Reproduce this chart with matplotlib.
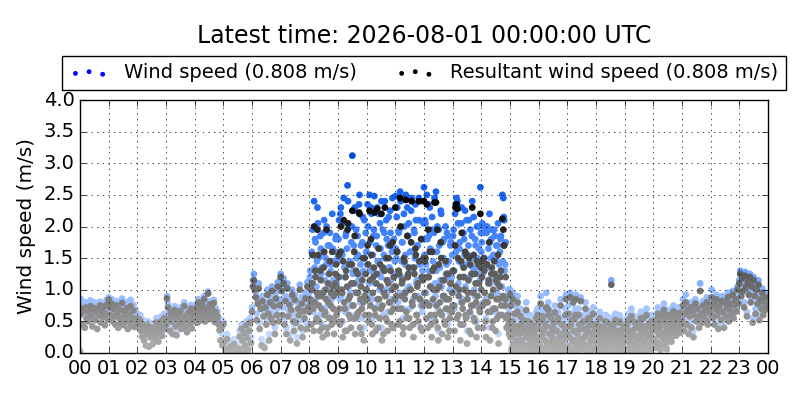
import matplotlib
matplotlib.use('Agg')
import matplotlib.pyplot as plt
import numpy as np
from matplotlib.colors import LinearSegmentedColormap

# one string per hour, 30 samples (even minutes), m/s
ws_hours = [
    "0.05 0.85 0.78 0.66 0.72 0.58 0.80 0.69 0.75 0.62 0.71 0.83 0.67 0.59 0.74 0.80 0.64 0.70 0.55 0.77 0.68 0.81 0.60 0.73 0.66 0.79 0.57 0.70 0.84 0.63",
    "0.88 0.80 0.72 0.85 0.66 0.78 0.70 0.62 0.82 0.74 0.58 0.69 0.77 0.64 0.86 0.71 0.60 0.75 0.67 0.80 0.56 0.73 0.65 0.84 0.61 0.70 0.76 0.59 0.68 0.63",
    "0.62 0.55 0.48 0.60 0.42 0.35 0.52 0.30 0.45 0.28 0.38 0.50 0.25 0.40 0.33 0.47 0.22 0.36 0.44 0.30 0.55 0.38 0.27 0.48 0.41 0.58 0.35 0.52 0.62 0.45",
    "0.52 0.90 0.78 0.62 0.45 0.70 0.58 0.40 0.66 0.74 0.50 0.36 0.60 0.68 0.55 0.72 0.46 0.63 0.57 0.80 0.49 0.65 0.42 0.70 0.61 0.54 0.76 0.48 0.67 0.59",
    "0.70 0.62 0.78 0.55 0.85 0.66 0.74 0.60 0.80 0.68 0.90 0.58 0.76 0.64 0.97 0.72 0.82 0.61 0.75 0.69 0.84 0.57 0.71 0.63 0.66 0.55 0.48 0.38 0.52 0.30",
    "0.48 0.25 0.12 0.05 0.30 0.08 0.02 0.18 0.04 0.10 0.01 0.22 0.06 0.03 0.15 0.00 0.08 0.35 0.12 0.45 0.28 0.05 0.40 0.20 0.50 0.32 0.10 0.42 0.55 0.25",
    "0.72 1.15 1.25 1.08 0.95 0.62 0.85 1.10 0.48 0.78 0.22 0.90 0.68 0.15 0.80 0.55 1.00 0.72 0.30 0.88 0.64 1.05 0.58 0.82 0.40 0.95 0.70 1.12 0.60 0.85",
    "1.25 1.05 0.72 1.18 0.55 0.90 0.40 1.10 0.68 0.85 0.30 0.78 1.00 0.62 0.45 0.92 0.58 0.25 0.80 0.70 1.08 0.52 0.88 0.35 0.75 0.65 0.95 0.48 1.12 0.82",
    "0.95 1.30 0.70 1.55 1.10 2.40 1.80 0.85 1.45 2.05 1.20 0.60 1.65 1.35 0.45 1.90 1.00 1.50 2.00 0.75 1.25 1.70 0.90 1.40 2.20 1.15 0.55 1.60 1.85 1.05",
    "1.45 2.10 0.85 2.30 1.60 0.50 2.45 1.20 1.85 0.70 2.65 1.40 2.00 0.95 1.75 3.12 1.30 2.25 0.60 1.95 1.10 1.55 2.35 0.80 1.70 1.25 2.15 0.40 1.50 1.90",
    "1.60 2.35 0.90 2.50 1.30 2.20 0.55 1.85 2.48 1.10 1.70 2.30 0.75 1.45 2.05 1.20 0.40 1.95 1.55 2.40 1.00 1.80 0.65 2.15 1.35 1.90 0.85 2.45 1.25 1.65",
    "2.48 1.50 2.30 0.80 1.95 2.55 1.20 1.75 0.55 2.20 1.40 2.50 1.00 1.85 2.05 0.70 1.60 2.45 1.30 0.45 1.90 2.35 1.10 1.70 0.90 2.10 1.45 2.40 0.65 1.80",
    "2.62 2.10 1.40 2.50 0.75 1.85 2.30 1.05 0.50 1.95 1.60 2.45 0.90 1.30 2.00 0.35 1.70 1.15 2.20 0.60 1.50 1.80 0.85 1.25 1.90 0.45 1.45 1.00 1.75 1.20",
    "1.30 1.95 0.70 2.35 2.45 2.40 1.10 1.65 0.45 2.05 1.40 0.85 1.80 2.25 1.00 0.35 1.55 2.10 1.20 0.60 1.85 1.35 2.15 0.90 1.70 0.50 1.50 2.00 1.25 2.62",
    "1.60 2.05 0.80 1.90 1.35 0.55 2.00 1.15 1.75 0.40 1.50 1.95 0.95 1.25 1.85 0.65 1.45 1.70 0.30 1.05 1.80 1.30 2.50 2.45 2.10 1.40 0.90 0.75 1.00 0.60",
    "1.00 0.85 0.60 0.95 0.40 0.75 0.25 0.55 0.90 0.15 0.45 0.70 0.30 0.10 0.65 0.20 0.50 0.80 0.35 0.05 0.42 0.60 0.25 0.12 0.55 0.38 0.08 0.48 0.30 0.70",
    "0.60 0.35 0.90 0.15 0.70 0.45 0.05 0.55 0.95 0.25 0.80 0.40 0.10 0.65 0.30 0.50 0.20 0.75 0.02 0.45 0.60 0.12 0.35 0.85 0.25 0.55 0.08 0.40 0.70 0.18",
    "0.40 0.75 0.20 0.95 0.55 0.10 0.85 0.30 0.65 0.92 0.45 0.05 0.70 0.25 0.88 0.50 0.15 0.60 0.35 0.80 0.08 0.45 0.65 0.22 0.55 0.12 0.40 0.72 0.30 0.50",
    "0.30 0.55 0.10 0.45 0.65 0.20 0.38 0.05 0.50 0.28 0.60 0.15 0.42 0.02 0.35 0.55 1.15 0.25 0.48 0.08 0.62 0.32 0.12 0.45 0.22 0.58 0.05 0.40 0.18 0.50",
    "0.25 0.50 0.08 0.40 0.62 0.15 0.35 0.70 0.05 0.45 0.22 0.58 0.12 0.30 0.48 0.02 0.38 0.65 0.18 0.52 0.28 0.10 0.42 0.70 0.20 0.55 0.32 0.15 0.60 0.45",
    "0.45 0.25 0.60 0.15 0.50 0.72 0.35 0.55 0.20 0.65 0.40 0.78 0.30 0.58 0.12 0.48 0.68 0.38 0.62 0.25 0.52 0.75 0.42 0.60 0.35 0.70 0.50 0.65 0.45 0.72",
    "0.60 0.85 0.45 0.70 0.92 0.55 0.75 0.40 0.65 0.80 0.50 0.72 0.35 0.68 0.85 0.58 0.78 0.62 0.48 1.10 0.70 0.55 0.82 0.65 0.75 0.60 0.88 0.52 0.72 0.80",
    "0.70 1.00 0.62 0.85 0.55 0.78 0.92 0.68 0.45 0.82 0.75 0.60 0.90 0.72 0.50 0.88 0.65 0.80 0.95 0.58 0.75 0.85 0.68 0.98 0.62 0.82 0.90 0.72 1.05 0.85",
    "1.15 1.30 0.95 1.22 1.05 0.80 1.28 1.10 0.65 1.18 1.00 1.25 0.88 1.12 0.55 1.20 0.98 0.70 1.08 0.85 1.15 0.60 0.92 0.78 1.02 0.68 0.88 0.75 0.95 0.82",
]
rws_hours = [
    "0.02 0.62 0.70 0.45 0.66 0.40 0.72 0.55 0.68 0.50 0.63 0.74 0.58 0.42 0.69 0.71 0.52 0.64 0.38 0.70 0.60 0.75 0.48 0.66 0.57 0.73 0.44 0.62 0.76 0.53",
    "0.84 0.72 0.60 0.78 0.50 0.70 0.58 0.45 0.75 0.62 0.40 0.55 0.68 0.48 0.79 0.57 0.44 0.66 0.52 0.71 0.38 0.61 0.49 0.74 0.43 0.56 0.67 0.41 0.53 0.47",
    "0.55 0.48 0.40 0.52 0.35 0.26 0.45 0.20 0.38 0.12 0.30 0.43 0.10 0.33 0.25 0.40 0.14 0.28 0.37 0.22 0.48 0.30 0.18 0.41 0.34 0.50 0.27 0.45 0.55 0.38",
    "0.45 0.86 0.72 0.55 0.35 0.64 0.50 0.30 0.60 0.68 0.42 0.28 0.53 0.62 0.47 0.66 0.38 0.56 0.49 0.74 0.40 0.58 0.33 0.63 0.54 0.46 0.70 0.39 0.60 0.51",
    "0.64 0.54 0.72 0.48 0.80 0.60 0.68 0.52 0.75 0.62 0.85 0.50 0.70 0.57 0.94 0.66 0.77 0.54 0.70 0.63 0.79 0.49 0.65 0.55 0.58 0.45 0.36 0.20 0.40 0.12",
    "0.45 0.18 0.06 0.02 0.22 0.03 0.01 0.10 0.02 0.05 0.00 0.14 0.03 0.01 0.08 0.00 0.04 0.26 0.06 0.38 0.20 0.02 0.32 0.12 0.44 0.24 0.05 0.35 0.48 0.16",
    "0.65 1.05 1.15 1.00 0.88 0.52 0.78 1.02 0.38 0.70 0.12 0.82 0.58 0.08 0.72 0.45 0.92 0.62 0.20 0.80 0.55 0.98 0.48 0.74 0.30 0.86 0.60 1.05 0.50 0.76",
    "1.20 0.98 0.60 1.10 0.45 0.82 0.30 1.02 0.58 0.76 0.20 0.68 0.92 0.50 0.35 0.84 0.48 0.15 0.70 0.60 1.00 0.40 0.78 0.25 0.66 0.55 0.86 0.38 1.05 0.72",
    "0.65 0.85 0.45 1.10 0.70 2.00 1.30 0.50 0.95 1.55 0.75 0.35 1.15 0.90 0.25 1.35 0.60 1.00 1.95 0.40 0.80 1.25 0.55 0.95 1.60 0.70 0.30 1.10 1.40 0.65",
    "1.00 1.55 0.45 2.00 1.00 0.25 2.10 0.70 1.20 0.35 1.95 0.85 1.40 0.55 1.10 2.25 0.75 1.60 0.30 1.30 0.60 0.95 2.22 0.40 1.05 0.70 1.50 0.20 0.90 1.25",
    "1.00 1.70 0.50 2.25 0.75 1.55 0.30 1.20 2.22 0.60 1.10 2.28 0.40 0.85 1.40 0.70 0.20 1.35 0.95 2.30 0.55 1.15 0.35 1.50 0.80 1.30 0.45 1.75 0.70 1.05",
    "2.30 0.90 1.60 0.45 1.25 2.45 0.70 1.10 0.30 1.50 0.85 2.42 0.55 1.20 1.35 0.40 1.00 2.40 0.75 0.25 1.25 1.65 0.60 1.05 0.50 1.45 0.85 1.80 0.35 1.15",
    "2.40 1.45 0.80 2.35 0.40 1.20 1.60 0.60 0.25 1.30 1.00 2.38 0.50 0.75 1.95 0.20 1.05 0.65 1.50 0.30 0.90 1.15 0.45 0.70 1.25 0.25 0.85 0.55 1.10 0.65",
    "0.75 1.30 0.35 2.30 2.35 2.28 0.60 1.00 0.20 1.45 0.80 0.45 1.20 1.60 0.55 0.15 0.95 1.50 0.65 0.30 1.25 0.75 1.55 0.50 1.10 0.25 0.90 1.40 0.70 2.20",
    "1.00 1.45 0.40 1.30 0.80 0.25 1.40 0.65 1.15 0.20 0.90 1.35 0.50 0.70 1.25 0.35 0.85 1.10 0.15 0.60 1.20 0.75 2.12 1.95 1.70 0.85 0.55 0.40 0.60 0.30",
    "0.92 0.75 0.45 0.85 0.30 0.62 0.15 0.42 0.80 0.08 0.35 0.58 0.20 0.05 0.52 0.12 0.40 0.68 0.25 0.02 0.32 0.48 0.15 0.06 0.44 0.28 0.04 0.38 0.20 0.60",
    "0.48 0.25 0.78 0.08 0.58 0.35 0.02 0.45 0.72 0.15 0.68 0.30 0.05 0.55 0.20 0.40 0.12 0.64 0.00 0.35 0.50 0.06 0.25 0.75 0.16 0.45 0.03 0.30 0.60 0.10",
    "0.30 0.62 0.10 0.88 0.45 0.05 0.80 0.20 0.55 0.85 0.35 0.02 0.60 0.15 0.82 0.40 0.08 0.50 0.25 0.70 0.04 0.35 0.55 0.12 0.45 0.06 0.30 0.62 0.20 0.40",
    "0.22 0.45 0.05 0.35 0.55 0.12 0.28 0.02 0.40 0.18 0.50 0.08 0.32 0.00 0.25 0.45 1.08 0.15 0.38 0.04 0.52 0.22 0.06 0.35 0.14 0.48 0.02 0.30 0.10 0.40",
    "0.18 0.42 0.04 0.30 0.52 0.08 0.25 0.58 0.02 0.35 0.15 0.48 0.06 0.22 0.40 0.00 0.28 0.55 0.10 0.42 0.20 0.05 0.32 0.60 0.12 0.45 0.22 0.08 0.50 0.36",
    "0.38 0.18 0.52 0.08 0.42 0.62 0.28 0.48 0.12 0.58 0.32 0.68 0.22 0.50 0.06 0.40 0.60 0.30 0.55 0.18 0.45 0.66 0.35 0.52 0.28 0.62 0.42 0.58 0.38 0.64",
    "0.52 0.75 0.35 0.62 0.80 0.45 0.68 0.30 0.58 0.72 0.40 0.65 0.25 0.60 0.78 0.50 0.70 0.55 0.40 0.98 0.62 0.48 0.75 0.58 0.68 0.52 0.80 0.45 0.65 0.72",
    "0.62 0.88 0.55 0.78 0.45 0.70 0.85 0.60 0.38 0.75 0.68 0.52 0.82 0.65 0.40 0.80 0.58 0.72 0.88 0.50 0.68 0.78 0.60 0.92 0.55 0.76 0.85 0.66 1.00 0.78",
    "1.10 1.25 0.90 1.18 0.98 0.72 1.22 1.05 0.58 1.12 0.92 1.20 0.80 1.05 0.48 1.15 0.90 0.62 1.00 0.78 1.08 0.52 0.85 0.70 0.95 0.60 0.80 0.68 0.88 0.75",
]
# extra samples (odd minutes) for the busy hours
extra_hours = [8, 9, 10, 11, 12, 13, 14, 15, 16, 17, 18, 19, 20]
ws_extra = [
    "1.20 0.80 1.60 1.95 0.65 1.35 1.75 1.05 2.30 1.50 0.90 1.85 1.25 0.70 1.55 2.10 1.15 1.40 0.60 1.70 1.00 1.90 1.30 0.85 1.65 1.45 0.95 1.80 1.10 1.50",
    "1.80 1.20 2.20 0.90 1.55 2.05 1.35 0.65 1.90 1.65 2.40 1.05 1.45 0.75 2.00 1.25 1.70 2.30 0.95 1.50 1.85 1.15 2.50 1.40 0.55 1.75 1.30 2.10 1.00 1.60",
    "1.40 2.00 1.10 1.75 2.30 0.85 1.55 1.95 1.25 0.70 1.85 1.45 2.20 1.00 1.65 2.40 1.30 0.60 1.90 1.50 2.10 0.95 1.70 1.35 2.25 1.15 1.60 0.80 1.80 1.45",
    "1.65 2.15 1.25 1.90 0.95 2.40 1.45 1.75 0.70 2.00 1.55 1.20 2.30 1.85 1.05 1.60 2.25 1.35 0.85 1.95 1.50 2.10 1.15 1.70 2.45 1.40 0.75 1.80 1.30 2.05",
    "1.55 2.05 0.95 1.80 2.35 1.30 1.65 0.80 2.15 1.45 1.90 1.10 2.55 1.60 0.70 1.95 1.35 2.25 1.05 1.75 1.50 0.90 2.00 1.40 1.20 1.85 0.65 1.70 1.25 1.55",
    "1.85 1.30 2.20 1.60 0.95 2.05 1.45 1.75 0.80 2.30 1.20 1.90 1.55 1.05 2.10 1.40 1.70 0.65 1.95 1.25 2.40 1.50 1.00 1.80 1.35 2.00 0.75 1.65 1.15 1.90",
    "1.75 1.25 2.00 1.50 0.85 1.90 1.35 1.65 2.20 1.10 1.80 0.70 1.55 1.95 1.20 1.70 0.95 2.05 1.40 1.60 1.85 1.05 1.45 2.15 1.30 1.75 0.60 0.85 0.70 0.50",
    "0.35 0.10 0.62 0.22 0.48 0.05 0.30 0.75 0.18 0.40 0.02 0.55 0.28 0.12 0.45 0.08 0.38 0.20 0.60 0.15 0.32 0.04 0.50 0.25 0.10 0.42 0.18 0.65 0.06 0.35",
    "0.22 0.48 0.08 0.38 0.62 0.15 0.30 0.02 0.52 0.25 0.70 0.12 0.42 0.05 0.35 0.58 0.20 0.45 0.10 0.28 0.65 0.04 0.40 0.18 0.55 0.30 0.08 0.48 0.92 0.35",
    "0.18 0.52 0.35 0.08 0.62 0.28 0.45 0.12 0.70 0.22 0.40 0.05 0.55 0.32 0.15 0.48 0.25 0.60 0.10 0.38 0.02 0.50 0.20 0.65 0.30 0.08 0.42 0.15 0.55 0.28",
    "0.15 0.40 0.05 0.28 0.52 0.10 0.35 0.20 0.45 0.02 0.30 0.58 0.12 0.25 0.48 0.08 0.38 0.18 0.55 0.05 0.32 0.15 0.42 0.22 0.60 0.10 0.35 0.25 0.50 0.12",
    "0.12 0.35 0.55 0.05 0.28 0.45 0.18 0.62 0.08 0.38 0.25 0.50 0.02 0.32 0.15 0.58 0.22 0.42 0.10 0.65 0.30 0.48 0.05 0.35 0.20 0.52 0.40 0.12 0.55 0.28",
    "0.30 0.55 0.18 0.45 0.65 0.25 0.50 0.10 0.40 0.60 0.32 0.70 0.22 0.52 0.42 0.62 0.28 0.48 0.58 0.35 0.68 0.45 0.55 0.38 0.62 0.50 0.72 0.42 0.60 0.55",
]
rws_extra = [
    "0.75 0.45 1.00 1.55 0.35 0.80 1.20 0.55 1.95 0.90 0.50 1.30 0.70 0.40 0.95 1.60 0.65 0.85 0.30 1.10 0.55 1.45 0.75 0.45 1.05 0.90 0.50 1.25 0.60 0.95",
    "1.20 0.70 1.60 0.50 0.95 1.45 0.80 0.35 1.30 1.05 2.05 0.60 0.90 0.40 1.40 0.75 1.10 1.85 0.55 0.95 1.25 0.65 2.20 0.85 0.30 1.15 0.80 1.50 0.60 1.00",
    "0.85 1.40 0.60 1.15 1.80 0.45 0.95 1.35 0.70 0.35 1.25 0.85 1.65 0.55 1.05 2.20 0.75 0.30 1.30 0.90 1.50 0.50 1.10 0.80 1.70 0.65 1.00 0.40 1.20 0.85",
    "1.05 1.60 0.70 1.30 0.50 2.00 0.90 1.15 0.40 1.45 0.95 0.65 1.85 1.25 0.55 1.00 1.75 0.80 0.45 1.35 0.90 1.55 0.60 1.10 2.40 0.85 0.40 1.20 0.75 1.50",
    "0.95 1.50 0.55 1.20 1.95 0.75 1.05 0.45 1.60 0.85 1.35 0.60 2.38 1.00 0.40 1.40 0.80 1.75 0.60 1.15 0.90 0.50 1.45 0.85 0.70 1.25 0.35 1.10 0.70 0.95",
    "1.30 0.75 1.70 1.05 0.55 1.50 0.90 1.20 0.45 1.90 0.70 1.35 1.00 0.60 1.55 0.85 1.15 0.35 1.40 0.75 2.30 0.95 0.55 1.25 0.80 1.45 0.40 1.10 0.65 1.35",
    "1.20 0.75 1.50 0.95 0.50 1.40 0.80 1.10 1.75 0.65 1.25 0.40 1.00 1.45 0.70 1.15 0.55 1.55 0.85 1.05 1.30 0.60 0.90 1.70 0.75 1.20 0.40 0.55 0.45 0.35",
    "0.25 0.05 0.50 0.14 0.38 0.02 0.20 0.65 0.10 0.30 0.00 0.45 0.18 0.06 0.35 0.03 0.28 0.12 0.50 0.08 0.22 0.01 0.40 0.15 0.05 0.32 0.10 0.55 0.02 0.25",
    "0.14 0.38 0.04 0.28 0.52 0.08 0.20 0.00 0.42 0.16 0.60 0.06 0.32 0.02 0.25 0.48 0.12 0.35 0.05 0.18 0.55 0.01 0.30 0.10 0.45 0.20 0.04 0.38 0.85 0.25",
    "0.10 0.42 0.25 0.04 0.52 0.18 0.35 0.06 0.60 0.14 0.30 0.02 0.45 0.22 0.08 0.38 0.16 0.50 0.05 0.28 0.00 0.40 0.12 0.55 0.20 0.04 0.32 0.08 0.45 0.18",
    "0.08 0.30 0.02 0.18 0.42 0.05 0.25 0.12 0.35 0.00 0.20 0.48 0.06 0.15 0.38 0.04 0.28 0.10 0.45 0.02 0.22 0.08 0.32 0.14 0.50 0.05 0.25 0.16 0.40 0.06",
    "0.06 0.25 0.45 0.02 0.18 0.35 0.10 0.52 0.04 0.28 0.16 0.40 0.00 0.22 0.08 0.48 0.14 0.32 0.05 0.55 0.20 0.38 0.02 0.25 0.12 0.42 0.30 0.06 0.45 0.18",
    "0.22 0.45 0.10 0.35 0.55 0.16 0.40 0.05 0.30 0.50 0.24 0.60 0.14 0.42 0.32 0.52 0.20 0.38 0.48 0.26 0.58 0.35 0.45 0.28 0.52 0.40 0.62 0.32 0.50 0.45",
]
hour_labels = ['%02d' % (h % 24) for h in range(25)]
title = 'Latest time: 2026-08-01 00:00:00 UTC'
ws_label = 'Wind speed (0.808 m/s)'
rws_label = 'Resultant wind speed (0.808 m/s)'


def unpack(hours, strings, offset):
    tt, vv = [], []
    for h, s in zip(hours, strings):
        vals = [float(v) for v in s.split()]
        n = len(vals)
        tt += [h + (i + offset) / n for i in range(n)]
        vv += vals
    return np.array(tt), np.array(vv)


t1, ws1 = unpack(range(24), ws_hours, 0.0)
_, rws1 = unpack(range(24), rws_hours, 0.0)
t2, ws2 = unpack(extra_hours, ws_extra, 0.5)
_, rws2 = unpack(extra_hours, rws_extra, 0.5)
order = np.argsort(np.concatenate([t1, t2]), kind='stable')
t = np.concatenate([t1, t2])[order]
ws = np.concatenate([ws1, ws2])[order]
rws = np.concatenate([rws1, rws2])[order]

plt.style.use('classic')
plt.rcParams['font.family'] = ['DejaVu Sans']

blue_cm = LinearSegmentedColormap.from_list('wsb', ['#d4e2ff', '#9ec0ff', '#5590ff', '#1a66f5', '#0048d0'])
gray_cm = LinearSegmentedColormap.from_list('wsg', ['#b0b0b0', '#8e8e8e', '#606060', '#303030', '#000000'])

fig = plt.figure(figsize=(8, 4), dpi=100)
fig.patch.set_facecolor('white')
ax = fig.add_axes([0.1, 0.1175, 0.86, 0.6325])

ax.scatter(t, ws, c=ws, cmap=blue_cm, vmin=0, vmax=3.2, s=24, edgecolors='none')
ax.scatter(t, rws, c=rws, cmap=gray_cm, vmin=0, vmax=2.4, s=24, edgecolors='none')

# legend proxies
h1 = ax.scatter([], [], c='b', s=12, edgecolors='none', label=ws_label)
h2 = ax.scatter([], [], c='k', s=12, edgecolors='none', label=rws_label)
ax.legend(handles=[h1, h2], loc='lower center', bbox_to_anchor=(0.5, 1.0),
          ncol=2, scatterpoints=3, fontsize=14, borderaxespad=0.5)

ax.set_xlim(0, 24)
ax.set_ylim(0, 4.0)
ax.set_xticks(range(25))
ax.set_xticklabels(hour_labels)
ax.set_yticks(np.arange(0, 4.01, 0.5))
ax.tick_params(labelsize=14)
ax.grid(True)
ax.set_ylabel('Wind speed (m/s)', fontsize=14.4)
fig.text(0.53, 0.91, title, ha='center', va='center', fontsize=17)

fig.savefig('out.png', dpi=100, facecolor='white')
